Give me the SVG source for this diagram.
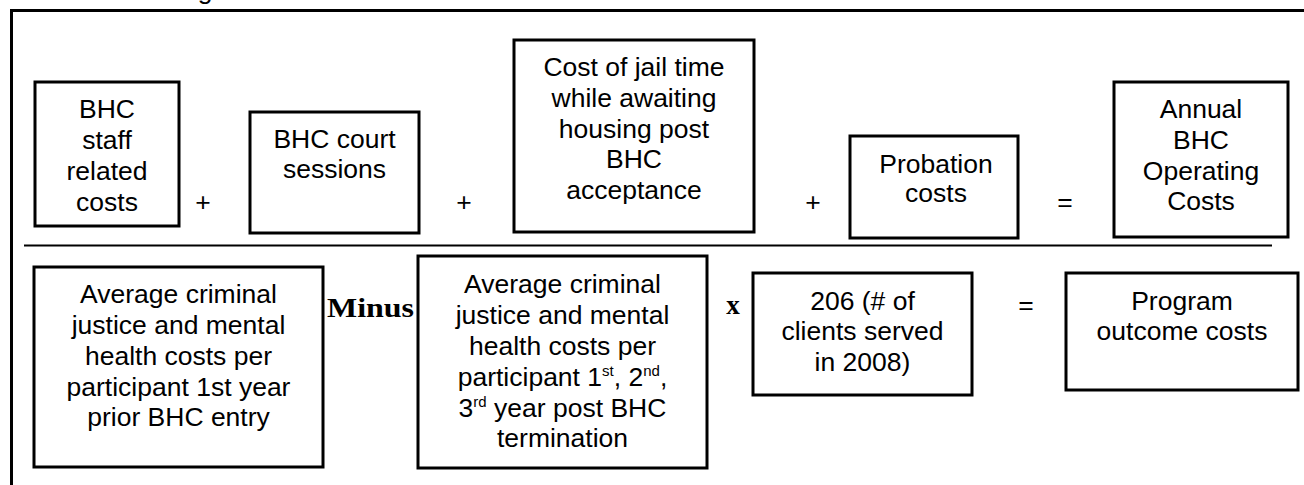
<svg xmlns="http://www.w3.org/2000/svg" width="1304" height="485" viewBox="0 0 1304 485">
<style>
.box{fill:#fff;stroke:#000;stroke-width:3}
.t{font-family:"Liberation Sans",Arial,sans-serif;font-size:26.5px;fill:#000;text-anchor:middle}
.op{font-family:"Liberation Sans",Arial,sans-serif;font-size:26.5px;fill:#000;text-anchor:middle}
.b{font-family:"Liberation Serif","Times New Roman",serif;font-weight:bold;font-size:27px;fill:#000}
.sup{font-size:15px}
</style>
<rect width="1304" height="485" fill="#fff"/>
<text class="t" x="205" y="-1">g</text>
<g id="frame">
<line x1="11.5" y1="10.5" x2="1304" y2="10.5" stroke="#000" stroke-width="3"/>
<line x1="11.5" y1="9" x2="11.5" y2="485" stroke="#000" stroke-width="3"/>
<line x1="24" y1="245.5" x2="1272" y2="245.5" stroke="#000" stroke-width="2"/>
</g>
<g id="operators">
<text class="op" x="203" y="211">+</text>
<text class="op" x="464" y="211">+</text>
<text class="op" x="813" y="211">+</text>
<text class="op" x="1065" y="211">=</text>
<text class="b" x="327" y="317" textLength="87" lengthAdjust="spacingAndGlyphs">Minus</text>
<text class="b" x="733" y="314" text-anchor="middle">x</text>
<text class="op" x="1026" y="314">=</text>
</g>
<g id="n1">
<rect class="box" x="35" y="82" width="144" height="144"/>
<text class="t"><tspan x="107" y="118">BHC</tspan><tspan x="107" y="149">staff</tspan><tspan x="107" y="180">related</tspan><tspan x="107" y="211">costs</tspan></text>
</g>
<g id="n2">
<rect class="box" x="250" y="112" width="169" height="121"/>
<text class="t"><tspan x="334.5" y="148">BHC court</tspan><tspan x="334.5" y="178">sessions</tspan></text>
</g>
<g id="n3">
<rect class="box" x="514" y="40" width="240" height="192"/>
<text class="t"><tspan x="634" y="76">Cost of jail time</tspan><tspan x="634" y="107">while awaiting</tspan><tspan x="634" y="138">housing post</tspan><tspan x="634" y="168">BHC</tspan><tspan x="634" y="199">acceptance</tspan></text>
</g>
<g id="n4">
<rect class="box" x="850" y="136" width="168" height="102"/>
<text class="t"><tspan x="936" y="173">Probation</tspan><tspan x="936" y="202">costs</tspan></text>
</g>
<g id="n5">
<rect class="box" x="1114" y="82" width="174" height="155"/>
<text class="t"><tspan x="1201" y="118">Annual</tspan><tspan x="1201" y="149">BHC</tspan><tspan x="1201" y="180">Operating</tspan><tspan x="1201" y="210">Costs</tspan></text>
</g>
<g id="n6">
<rect class="box" x="34" y="267" width="289" height="200"/>
<text class="t"><tspan x="178.5" y="303">Average criminal</tspan><tspan x="178.5" y="334">justice and mental</tspan><tspan x="178.5" y="365">health costs per</tspan><tspan x="178.5" y="396">participant 1st year</tspan><tspan x="178.5" y="426">prior BHC entry</tspan></text>
</g>
<g id="n7">
<rect class="box" x="418" y="256" width="289" height="212"/>
<text class="t"><tspan x="562.5" y="293">Average criminal</tspan><tspan x="562.5" y="324">justice and mental</tspan><tspan x="562.5" y="355">health costs per</tspan></text>
<text class="t" x="562.5" y="386">participant 1<tspan class="sup" dy="-10">st</tspan><tspan dy="10">, 2</tspan><tspan class="sup" dy="-10">nd</tspan><tspan dy="10">,</tspan></text>
<text class="t" x="562.5" y="417">3<tspan class="sup" dy="-10">rd</tspan><tspan dy="10"> year post BHC</tspan></text>
<text class="t" x="562.5" y="447">termination</text>
</g>
<g id="n8">
<rect class="box" x="753" y="273" width="219" height="122"/>
<text class="t"><tspan x="862.5" y="310">206 (# of</tspan><tspan x="862.5" y="340">clients served</tspan><tspan x="862.5" y="371">in 2008)</tspan></text>
</g>
<g id="n9">
<rect class="box" x="1066" y="273" width="232" height="117"/>
<text class="t"><tspan x="1182" y="310">Program</tspan><tspan x="1182" y="340">outcome costs</tspan></text>
</g>
</svg>
